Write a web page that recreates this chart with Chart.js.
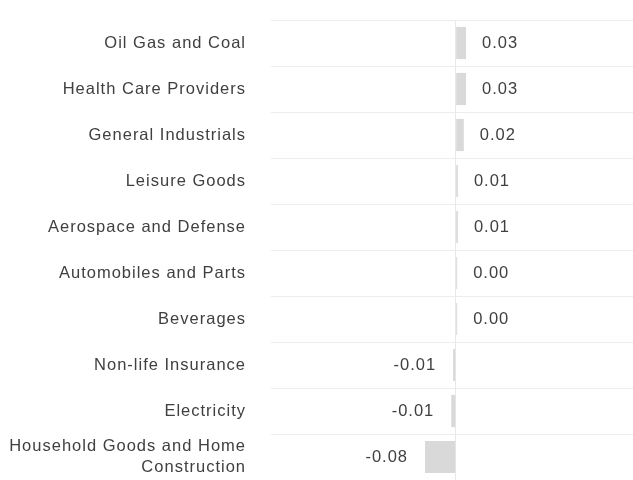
<!DOCTYPE html>
<html>
<head>
<meta charset="utf-8">
<script src="https://cdn.jsdelivr.net/npm/chart.js@4"></script>
<style>
  html, body { margin: 0; padding: 0; background: #fff; }
  #wrap { width: 633px; height: 480px; }
</style>
</head>
<body>
<div id="wrap"><canvas id="chart"></canvas></div>
<script>
// Data
const categories = [
    'Oil Gas and Coal',
    'Health Care Providers',
    'General Industrials',
    'Leisure Goods',
    'Aerospace and Defense',
    'Automobiles and Parts',
    'Beverages',
    'Non-life Insurance',
    'Electricity',
    ['Household Goods and Home', 'Construction']
];
const values = [0.028, 0.028, 0.022, 0.006, 0.006, 0.004, 0.004, -0.007, -0.012, -0.083];
const xMin = -0.5;
const xMax = 0.48;

const fontFamily = '"Liberation Sans", Arial, sans-serif';

// slightly looser text, like the original render
const spacing = {
    id: 'spacing',
    beforeDraw(chart) {
        chart.ctx.letterSpacing = '1px';
    }
};

// Value labels next to each bar
const valueLabels = {
    id: 'valueLabels',
    afterDatasetsDraw(chart) {
        const ctx = chart.ctx;
        const meta = chart.getDatasetMeta(0);
        ctx.save();
        ctx.font = '16.5px ' + fontFamily;
        ctx.fillStyle = '#404040';
        ctx.textBaseline = 'middle';
        meta.data.forEach((bar, i) => {
            const v = values[i];
            const txt = v.toFixed(2);
            if (v >= 0) {
                ctx.textAlign = 'left';
                ctx.fillText(txt, bar.x + 16, bar.y);
            } else {
                ctx.textAlign = 'right';
                ctx.fillText(txt, bar.x - 17, bar.y);
            }
        });
        ctx.restore();
    }
};

const chart = new Chart(document.getElementById('chart'), {
    type: 'bar',
    data: {
        labels: categories,
        datasets: [{
            data: values,
            backgroundColor: '#d9d9d9',
            borderWidth: 0,
            categoryPercentage: 1,
            barPercentage: 0.7
        }]
    },
    options: {
        indexAxis: 'y',
        responsive: true,
        maintainAspectRatio: false,
        animation: false,
        layout: { padding: { top: 20, left: 0, right: 0, bottom: 0 } },
        plugins: {
            legend: { display: false },
            tooltip: { enabled: false }
        },
        scales: {
            x: {
                min: xMin,
                max: xMax,
                border: { display: false },
                ticks: { display: false, padding: 0 },
                grid: {
                    drawTicks: false,
                    color: (c) => (c.tick && c.tick.value === 0) ? '#e8e8e8' : 'rgba(0,0,0,0)'
                },
                afterFit(scale) {
                    scale.height = 0;
                    scale.paddingLeft = 0;
                    scale.paddingRight = 0;
                }
            },
            y: {
                border: { display: false },
                grid: { drawTicks: false, color: '#ececec' },
                ticks: {
                    autoSkip: false,
                    color: '#404040',
                    padding: 25,
                    font: { family: fontFamily, size: 16.5, lineHeight: 1.3 }
                },
                afterFit(scale) {
                    scale.width = 271;
                    scale.paddingTop = 0;
                    scale.paddingBottom = 0;
                }
            }
        }
    },
    plugins: [spacing, valueLabels]
});
</script>
</body>
</html>
